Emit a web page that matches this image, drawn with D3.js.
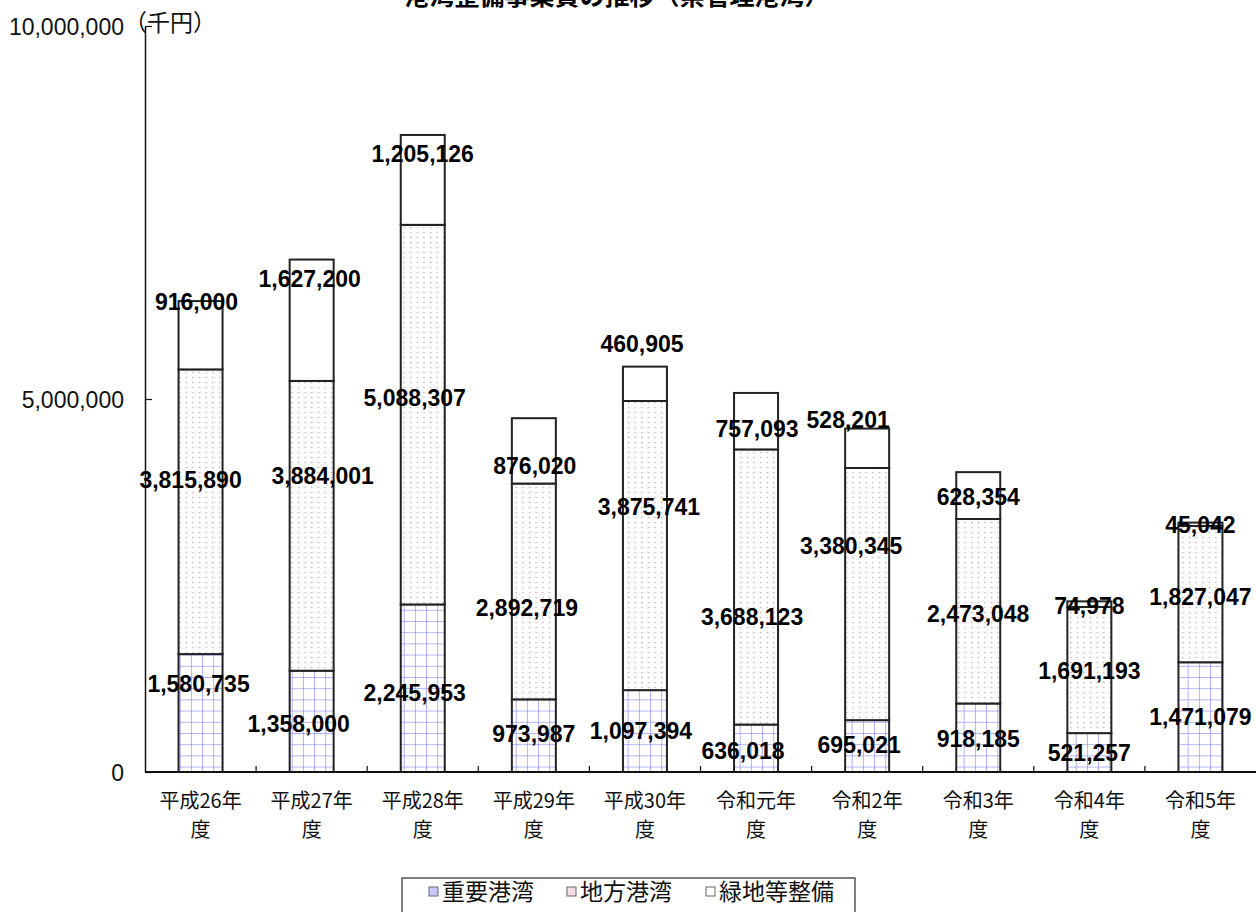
<!DOCTYPE html>
<html>
<head>
<meta charset="utf-8">
<script src="https://cdn.jsdelivr.net/npm/d3@7"></script>
<style>
  html, body { margin: 0; padding: 0; background: #fff; }
  svg { display: block; }
</style>
</head>
<body>
<div id="chart"></div>
<script>
// 港湾整備事業費の推移（県管理港湾） 単位：千円
const categories = ["平成26年度", "平成27年度", "平成28年度", "平成29年度", "平成30年度",
                    "令和元年度", "令和2年度", "令和3年度", "令和4年度", "令和5年度"];
const tickLines = [["平成26年", "度"], ["平成27年", "度"], ["平成28年", "度"], ["平成29年", "度"],
                   ["平成30年", "度"], ["令和元年", "度"], ["令和2年", "度"], ["令和3年", "度"],
                   ["令和4年", "度"], ["令和5年", "度"]];
const keyPorts    = [1580735, 1358000, 2245953, 973987, 1097394, 636018, 695021, 918185, 521257, 1471079];
const localPorts  = [3815890, 3884001, 5088307, 2892719, 3875741, 3688123, 3380345, 2473048, 1691193, 1827047];
const greenSpaces = [916000, 1627200, 1205126, 876020, 460905, 757093, 528201, 628354, 74978, 45042];
const seriesNames = ["重要港湾", "地方港湾", "緑地等整備"];
const yTicks = [0, 5000000, 10000000];

// label nudges (px) from each segment's centre: [dx, dy]
const labelNudge = [
  [[-2, -29], [-13, 2], [-8, 4], [0, -2], [-4, 0], [-13, 2], [-8, -1], [0, 1], [0, 0], [0, 0]],
  [[-10, -32], [11, -50], [-8, -17], [-7, 16], [4, -39], [-4, 30], [-16, -48], [0, 2], [0, 1], [0, 3]],
  [[-4, -34], [-2, -42], [0, -26], [1, 15], [-3, -40], [1, 8], [-19, -29], [0, 1], [0, 2], [0, 0]]
];

const W = 1256, H = 912;
const svg = d3.select("#chart").append("svg")
  .attr("width", W).attr("height", H)
  .attr("viewBox", `0 0 ${W} ${H}`);

// fill patterns
const defs = svg.append("defs");
const grid = defs.append("pattern").attr("id", "pat-grid")
  .attr("patternUnits", "userSpaceOnUse").attr("width", 11.2).attr("height", 11.2)
  .attr("x", 0.5).attr("y", 5);
grid.append("rect").attr("width", 11.2).attr("height", 11.2).attr("fill", "#fff");
grid.append("path").attr("d", "M0,0H11.2M0,0V11.2")
  .attr("stroke", "#9597f5").attr("stroke-width", 1.5).attr("fill", "none");

const dots = defs.append("pattern").attr("id", "pat-dots")
  .attr("patternUnits", "userSpaceOnUse").attr("width", 6.6).attr("height", 10);
dots.append("rect").attr("width", 6.6).attr("height", 10).attr("fill", "#fff");
dots.append("circle").attr("cx", 1.6).attr("cy", 2.5).attr("r", 0.85).attr("fill", "#d9a9b8");
dots.append("circle").attr("cx", 1.6).attr("cy", 7.5).attr("r", 0.85).attr("fill", "#bdb5ba");

const fills = ["url(#pat-grid)", "url(#pat-dots)", "#fff"];

// scales
const x = d3.scaleBand().domain(categories).range([145, 1256])
  .paddingInner(0.604).paddingOuter(0.302);
const y = d3.scaleLinear().domain([0, 10000000]).range([772, 26]);

// stacked data
const rows = categories.map((c, i) => ({ cat: c, k0: keyPorts[i], k1: localPorts[i], k2: greenSpaces[i] }));
const stack = d3.stack().keys(["k0", "k1", "k2"])(rows);

// title (sits partly above the frame)
svg.append("text")
  .attr("x", 617).attr("y", 5)
  .attr("text-anchor", "middle")
  .attr("font-family", "'Noto Sans CJK JP', sans-serif")
  .attr("font-weight", "bold").attr("font-size", 25)
  .text("港湾整備事業費の推移（県管理港湾）");

// bars
const layers = svg.append("g").selectAll("g").data(stack).join("g")
  .attr("fill", (d, i) => fills[i]);
layers.selectAll("rect").data(d => d).join("rect")
  .attr("x", d => x(d.data.cat))
  .attr("width", x.bandwidth())
  .attr("y", d => y(d[1]))
  .attr("height", d => y(d[0]) - y(d[1]))
  .attr("stroke", "#222").attr("stroke-width", 2);

// axes
const gx = svg.append("g").attr("transform", "translate(0,772)");
gx.append("line").attr("x1", 145).attr("x2", 1256).attr("y1", 0).attr("y2", 0)
  .attr("stroke", "#111").attr("stroke-width", 2);
const bounds = categories.slice(1).map(c => x(c) - x.step() * x.paddingInner() / 2);
gx.selectAll("line.tk").data(bounds).join("line").attr("class", "tk")
  .attr("x1", d => d).attr("x2", d => d).attr("y1", 0).attr("y2", -6)
  .attr("stroke", "#111").attr("stroke-width", 1.2);

const catLabels = svg.append("g")
  .attr("font-family", "'Noto Sans CJK JP', sans-serif").attr("font-size", 20)
  .attr("fill", "#111").attr("text-anchor", "middle");
categories.forEach((c, i) => {
  const cx = x(c) + x.bandwidth() / 2;
  const t = catLabels.append("text").attr("x", cx).attr("y", 808);
  t.append("tspan").attr("x", cx).text(tickLines[i][0]);
  t.append("tspan").attr("x", cx).attr("dy", 29).text(tickLines[i][1]);
});

const yAxis = d3.axisLeft(y).tickValues(yTicks).tickSize(0).tickPadding(21)
  .tickFormat(d3.format(","));
const gy = svg.append("g").attr("transform", "translate(145,0)").call(yAxis);
gy.select(".domain").attr("stroke", "#111").attr("stroke-width", 1.5);
gy.selectAll(".tick text")
  .attr("font-family", "'Liberation Sans', Arial, sans-serif")
  .attr("font-size", 23).attr("fill", "#111").attr("dy", "0.38em");
gy.selectAll(".tick").append("line")
  .attr("x1", 0).attr("x2", 7).attr("stroke", "#111").attr("stroke-width", 1.2);

svg.append("text").attr("x", 124).attr("y", 31)
  .attr("font-family", "'Noto Sans CJK JP', sans-serif").attr("font-size", 23)
  .attr("fill", "#111").text("（千円）");

// value labels
const fmt = d3.format(",");
const labels = svg.append("g")
  .attr("font-family", "'Liberation Sans', Arial, sans-serif")
  .attr("font-weight", "bold").attr("font-size", 23)
  .attr("fill", "#000").attr("text-anchor", "middle");
stack.forEach((layer, s) => {
  layer.forEach((d, i) => {
    const cx = x(d.data.cat) + x.bandwidth() / 2 + labelNudge[s][i][0];
    const cy = y((d[0] + d[1]) / 2) + labelNudge[s][i][1];
    labels.append("text").attr("x", cx).attr("y", cy).attr("dy", "0.36em")
      .text(fmt(d[1] - d[0]));
  });
});

// legend
const lg = svg.append("g");
lg.append("rect").attr("x", 402).attr("y", 878).attr("width", 453).attr("height", 44)
  .attr("fill", "#fff").attr("stroke", "#555").attr("stroke-width", 1.5);
const legendX = [429, 567, 706];
seriesNames.forEach((name, i) => {
  lg.append("rect").attr("x", legendX[i]).attr("y", 887).attr("width", 9).attr("height", 9)
    .attr("fill", i === 0 ? "#c9c9ff" : i === 1 ? "#f4dde5" : "#fff")
    .attr("stroke", "#666").attr("stroke-width", 1);
  lg.append("text").attr("x", legendX[i] + 13).attr("y", 900)
    .attr("font-family", "'Noto Sans CJK JP', sans-serif").attr("font-size", 23)
    .attr("fill", "#111").text(name);
});
</script>
</body>
</html>
